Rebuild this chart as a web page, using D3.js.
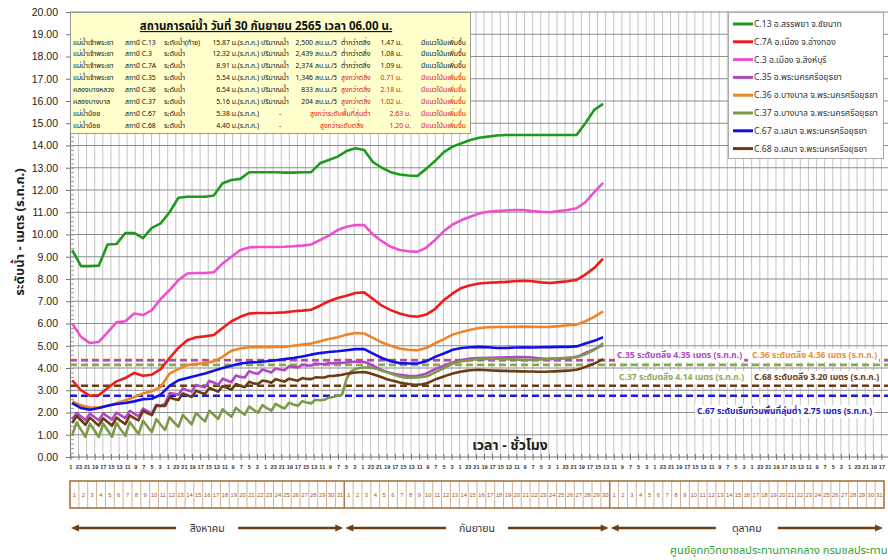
<!DOCTYPE html>
<html>
<head>
<meta charset="utf-8">
<script src="https://cdn.jsdelivr.net/npm/d3@7"></script>
<style>
  body { margin: 0; background: #fff; }
  svg { display: block; font-family: Tahoma, "Noto Sans Thai", "Noto Sans", "DejaVu Sans", sans-serif; }
</style>
</head>
<body>
<svg id="chart" width="888" height="560"></svg>
<script>
// ---- data -------------------------------------------------------------
// daily readings at 06:00, 1 Aug - 30 Sep 2022 (2565)
var c13 = [9.3, 8.58, 8.58, 8.6, 9.55, 9.57, 10.07, 10.07, 9.84, 10.3, 10.5, 11.0, 11.65, 11.7, 11.7, 11.7, 11.75, 12.3, 12.45, 12.5, 12.8, 12.8, 12.8, 12.8, 12.78, 12.78, 12.8, 12.8, 13.2, 13.35, 13.5, 13.75, 13.88, 13.8, 13.25, 13.0, 12.8, 12.7, 12.65, 12.63, 12.95, 13.3, 13.7, 13.95, 14.1, 14.25, 14.35, 14.4, 14.45, 14.47, 14.47, 14.47, 14.47, 14.47, 14.47, 14.47, 14.47, 14.47, 15.0, 15.6, 15.87];
var c3 = [6.0, 5.4, 5.12, 5.17, 5.6, 6.05, 6.1, 6.45, 6.38, 6.6, 7.1, 7.5, 7.95, 8.25, 8.27, 8.27, 8.3, 8.7, 9.0, 9.3, 9.42, 9.44, 9.44, 9.44, 9.45, 9.47, 9.5, 9.55, 9.75, 9.95, 10.2, 10.35, 10.43, 10.42, 10.0, 9.7, 9.45, 9.3, 9.25, 9.22, 9.4, 9.75, 10.15, 10.45, 10.65, 10.8, 10.95, 11.02, 11.05, 11.08, 11.1, 11.1, 11.05, 11.02, 11.0, 11.05, 11.1, 11.18, 11.45, 11.9, 12.32];
var c7a = [3.45, 3.0, 2.75, 2.78, 3.1, 3.4, 3.55, 3.78, 3.65, 3.7, 3.95, 4.45, 4.9, 5.25, 5.38, 5.42, 5.48, 5.8, 6.1, 6.3, 6.45, 6.47, 6.47, 6.48, 6.5, 6.55, 6.58, 6.62, 6.8, 7.0, 7.15, 7.25, 7.37, 7.4, 7.1, 6.8, 6.6, 6.45, 6.35, 6.3, 6.4, 6.65, 7.05, 7.35, 7.6, 7.72, 7.8, 7.83, 7.85, 7.87, 7.9, 7.92, 7.9, 7.85, 7.82, 7.86, 7.9, 7.96, 8.2, 8.5, 8.91];
var c36 = [2.5, 2.32, 2.22, 2.22, 2.3, 2.42, 2.55, 2.7, 2.85, 2.95, 3.15, 3.75, 3.95, 4.13, 4.18, 4.22, 4.3, 4.5, 4.78, 4.88, 4.93, 4.94, 4.94, 4.95, 4.95, 5.0, 5.05, 5.1, 5.2, 5.3, 5.38, 5.5, 5.57, 5.55, 5.35, 5.15, 5.0, 4.88, 4.82, 4.8, 4.9, 5.1, 5.3, 5.5, 5.62, 5.72, 5.8, 5.83, 5.84, 5.84, 5.85, 5.86, 5.85, 5.84, 5.85, 5.88, 5.92, 5.95, 6.1, 6.3, 6.54];
var c67 = [2.42, 2.2, 2.12, 2.2, 2.3, 2.38, 2.43, 2.5, 2.6, 2.62, 2.8, 3.2, 3.45, 3.55, 3.65, 3.75, 3.88, 4.0, 4.1, 4.2, 4.25, 4.27, 4.3, 4.35, 4.4, 4.45, 4.52, 4.6, 4.67, 4.72, 4.75, 4.8, 4.85, 4.85, 4.65, 4.45, 4.3, 4.22, 4.2, 4.2, 4.3, 4.5, 4.65, 4.82, 4.9, 4.93, 4.95, 4.93, 4.9, 4.9, 4.92, 4.93, 4.92, 4.93, 4.94, 4.95, 4.95, 4.97, 5.1, 5.22, 5.38];

// tidal stations, readings every 12 hours from 1 Aug 06:00
var c35 = [1.7, 1.98, 1.82, 1.66, 1.95, 1.8, 1.65, 1.96, 1.82, 1.68,
  2.0, 1.87, 1.75, 2.07, 1.95, 1.83, 2.17, 2.06, 1.95, 2.35,
  2.3, 2.4, 2.87, 2.84, 2.8, 3.08, 3.0, 2.94, 3.24, 3.18,
  3.13, 3.42, 3.35, 3.25, 3.52, 3.44, 3.36, 3.66, 3.6, 3.57,
  3.85, 3.78, 3.74, 3.93, 3.87, 3.8, 3.98, 3.93, 3.9, 4.08,
  4.05, 4.02, 4.15, 4.12, 4.11, 4.2, 4.18, 4.17, 4.22, 4.21,
  4.22, 4.23, 4.25, 4.27, 4.28, 4.28, 4.27, 4.2, 4.1, 4.0,
  3.9, 3.83, 3.77, 3.73, 3.7, 3.67, 3.65, 3.64, 3.65, 3.69,
  3.75, 3.85, 3.95, 4.03, 4.1, 4.18, 4.25, 4.31, 4.36, 4.39,
  4.42, 4.44, 4.45, 4.45, 4.46, 4.46, 4.47, 4.47, 4.48, 4.48,
  4.49, 4.49, 4.49, 4.48, 4.47, 4.45, 4.43, 4.41, 4.4, 4.41,
  4.42, 4.43, 4.45, 4.47, 4.5, 4.58, 4.68, 4.76, 4.85, 4.94,
  5.03];
var c37 = [0.98, 1.55, 1.22, 0.91, 1.5, 1.2, 0.9, 1.5, 1.2, 0.91,
  1.52, 1.23, 0.95, 1.57, 1.3, 1.03, 1.63, 1.37, 1.12, 1.7,
  1.45, 1.22, 1.78, 1.56, 1.35, 1.89, 1.68, 1.47, 1.98, 1.78,
  1.6, 2.08, 1.9, 1.71, 2.15, 1.97, 1.81, 2.21, 2.05, 1.9,
  2.27, 2.12, 1.99, 2.33, 2.2, 2.08, 2.39, 2.27, 2.18, 2.44,
  2.36, 2.3, 2.51, 2.45, 2.41, 2.57, 2.55, 2.57, 2.67, 2.7,
  2.75, 2.8, 3.5, 3.85, 3.95, 4.0, 4.02, 4.02, 4.0, 3.95,
  3.88, 3.82, 3.75, 3.68, 3.62, 3.58, 3.56, 3.56, 3.58, 3.6,
  3.62, 3.7, 3.8, 3.9, 4.0, 4.1, 4.2, 4.25, 4.3, 4.33,
  4.36, 4.38, 4.4, 4.4, 4.41, 4.42, 4.41, 4.4, 4.4, 4.39,
  4.38, 4.37, 4.36, 4.36, 4.36, 4.37, 4.38, 4.4, 4.42, 4.43,
  4.44, 4.45, 4.46, 4.47, 4.5, 4.55, 4.62, 4.72, 4.82, 4.95,
  5.12];
var c68 = [1.53, 1.84, 1.65, 1.45, 1.77, 1.59, 1.41, 1.74, 1.57, 1.41,
  1.77, 1.62, 1.48, 1.87, 1.75, 1.65, 2.07, 1.97, 1.88, 2.3,
  2.3, 2.3, 2.67, 2.61, 2.56, 2.85, 2.78, 2.7, 2.98, 2.9,
  2.83, 3.1, 3.02, 2.94, 3.19, 3.11, 3.03, 3.28, 3.2, 3.14,
  3.38, 3.31, 3.28, 3.44, 3.4, 3.34, 3.5, 3.44, 3.39, 3.52,
  3.47, 3.43, 3.55, 3.51, 3.5, 3.58, 3.57, 3.57, 3.64, 3.64,
  3.67, 3.7, 3.74, 3.77, 3.8, 3.81, 3.82, 3.78, 3.72, 3.65,
  3.58, 3.51, 3.45, 3.4, 3.35, 3.31, 3.28, 3.26, 3.25, 3.27,
  3.3, 3.39, 3.48, 3.55, 3.62, 3.69, 3.75, 3.8, 3.84, 3.87,
  3.9, 3.91, 3.92, 3.91, 3.9, 3.89, 3.88, 3.87, 3.87, 3.86,
  3.86, 3.85, 3.85, 3.84, 3.84, 3.83, 3.83, 3.83, 3.84, 3.85,
  3.86, 3.87, 3.88, 3.9, 3.92, 3.98, 4.05, 4.12, 4.2, 4.3,
  4.4];

var seriesNames = ["C.13 อ.สรรพยา จ.ชัยนาท", "C.7A อ.เมือง จ.อ่างทอง", "C.3 อ.เมือง จ.สิงห์บุรี",
  "C.35 อ.พระนครศรีอยุธยา", "C.36 อ.บางบาล จ.พระนครศรีอยุธยา", "C.37 อ.บางบาล จ.พระนครศรีอยุธยา",
  "C.67 อ.เสนา จ.พระนครศรีอยุธยา", "C.68 อ.เสนา จ.พระนครศรีอยุธยา"];
var seriesValues = [c13, c7a, c3, c35, c36, c37, c67, c68];
var seriesStep = [24, 24, 24, 12, 24, 12, 24, 12];   // hours between readings
var seriesColors = ["#1e9b1e", "#ee1c1c", "#ef4fcf", "#b048c0", "#ef8428", "#7e9a48", "#1010e8", "#6a3c12"];

var thresholdValues = [4.36, 4.35, 4.14, 3.20, 2.75];
var thresholdColors = ["#ef8428", "#b048c0", "#8aa850", "#6a3c12", "#1a1ae0"];
var thresholdLabels = ["C.36 ระดับตลิ่ง 4.36 เมตร (ร.ท.ก.)", "C.35 ระดับตลิ่ง 4.35 เมตร (ร.ท.ก.)",
  "C.37 ระดับตลิ่ง 4.14 เมตร (ร.ท.ก.)", "C.68 ระดับตลิ่ง 3.20 เมตร (ร.ท.ก.)",
  "C.67 ระดับเริ่มท่วมพื้นที่ลุ่มต่ำ 2.75 เมตร (ร.ท.ก.)"];
var thresholdLabelColors = ["#e89040", "#b048c0", "#8aaa50", "#6a3c12", "#2020c0"];

var months = ["สิงหาคม", "กันยายน", "ตุลาคม"];
var monthDays = [31, 30, 31];

var infoTitle = "สถานการณ์น้ำ วันที่ 30 กันยายน 2565 เวลา 06.00 น.";
var infoRivers = ["แม่น้ำเจ้าพระยา", "แม่น้ำเจ้าพระยา", "แม่น้ำเจ้าพระยา", "แม่น้ำเจ้าพระยา", "คลองบางหลวง", "คลองบางบาล", "แม่น้ำน้อย", "แม่น้ำน้อย"];
var infoStations = ["สถานี C.13", "สถานี C.3", "สถานี C.7A", "สถานี C.35", "สถานี C.36", "สถานี C.37", "สถานี C.67", "สถานี C.68"];
var infoLevelLabels = ["ระดับน้ำ(ท้าย)", "ระดับน้ำ", "ระดับน้ำ", "ระดับน้ำ", "ระดับน้ำ", "ระดับน้ำ", "ระดับน้ำ", "ระดับน้ำ"];
var infoLevels = ["15.87", "12.32", "8.91", "5.54", "6.54", "5.16", "5.38", "4.40"];
var infoFlows = ["2,500", "2,439", "2,374", "1,346", "833", "204", "-", "-"];
var infoStatus = ["ต่ำกว่าตลิ่ง", "ต่ำกว่าตลิ่ง", "ต่ำกว่าตลิ่ง", "สูงกว่าตลิ่ง", "สูงกว่าตลิ่ง", "สูงกว่าตลิ่ง", "สูงกว่าระดับพื้นที่ลุ่มต่ำ", "สูงกว่าระดับตลิ่ง"];
var infoDiffs = ["1.47", "1.08", "1.09", "0.71", "2.18", "1.02", "2.63", "1.20"];
var infoTrend = "มีแนวโน้มเพิ่มขึ้น";

// ---- chart ------------------------------------------------------------
var svg = d3.select("#chart");
var totalHours = d3.sum(monthDays) * 24;

var x = d3.scaleLinear().domain([0, totalHours]).range([70, 884]);
var y = d3.scaleLinear().domain([0, 20]).range([457, 12]);

var hourTicks = d3.range(1, totalHours, 22);

// grid
var grid = svg.append("g");
grid.selectAll(".vg")
    .data(hourTicks)
  .enter().append("line")
    .attr("x1", function(d) { return x(d); })
    .attr("x2", function(d) { return x(d); })
    .attr("y1", y(20))
    .attr("y2", y(0))
    .style("stroke", "#c4c4c4")
    .style("stroke-width", 1);

grid.selectAll(".hg")
    .data(d3.range(1, 21))
  .enter().append("line")
    .attr("x1", 70)
    .attr("x2", 888)
    .attr("y1", function(d) { return y(d); })
    .attr("y2", function(d) { return y(d); })
    .style("stroke", "#8c8c8c")
    .style("stroke-width", 1);

// y axis
var yAxis = svg.append("g")
    .attr("transform", "translate(70,0)")
    .call(d3.axisLeft(y).tickValues(d3.range(0, 21)).tickFormat(d3.format(".2f")).tickSize(4).tickPadding(8));
yAxis.selectAll("text").style("font-family", "Arial, 'Liberation Sans', sans-serif").style("font-size", "10.5px").style("fill", "#222");
yAxis.select(".domain").style("stroke", "#777");
yAxis.selectAll(".tick line").style("stroke", "#777");

var yMinor = svg.append("g")
    .attr("transform", "translate(70,0)")
    .call(d3.axisRight(y).tickValues(d3.range(0, 100).map(function(i) { return i * 0.2; })).tickFormat("").tickSize(4));
yMinor.select(".domain").remove();
yMinor.selectAll(".tick line").style("stroke", "#999");

// x axis (hours)
var xAxis = svg.append("g")
    .attr("transform", "translate(0,457)")
    .call(d3.axisBottom(x).tickValues(hourTicks).tickFormat(function(h) { return h % 24; }).tickSize(3).tickPadding(5));
xAxis.select(".domain").attr("d", "M70,0H888").style("stroke", "#777");
xAxis.selectAll(".tick line").attr("y1", -3).style("stroke", "#777");
xAxis.selectAll("text")
    .style("font-family", "Arial, 'Liberation Sans', sans-serif")
    .style("font-size", "5.6px")
    .style("font-weight", "bold")
    .style("fill", "#333");

// thresholds
svg.append("g").selectAll("line")
    .data(thresholdValues)
  .enter().append("line")
    .attr("x1", 70)
    .attr("x2", 888)
    .attr("y1", function(d) { return y(d); })
    .attr("y2", function(d) { return y(d); })
    .style("stroke", function(d, i) { return thresholdColors[i]; })
    .style("stroke-width", 2.6)
    .style("stroke-dasharray", "7,4");

// series
var line = d3.line()
    .x(function(d) { return x(6 + d.i * d.step); })
    .y(function(d) { return y(d.v); });

svg.append("g").selectAll("path")
    .data(seriesValues)
  .enter().append("path")
    .attr("d", function(vals, s) {
      return line(vals.map(function(v, i) { return {v: v, i: i, step: seriesStep[s]}; }));
    })
    .style("fill", "none")
    .style("stroke", function(d, i) { return seriesColors[i]; })
    .style("stroke-width", 2.6)
    .style("stroke-linejoin", "round");

// threshold labels (white boxes like the Excel text boxes)
var labelPos = [[752, 358], [617, 358], [619, 380], [754, 380], [697, 414]];
var tl = svg.append("g").selectAll("g")
    .data(thresholdLabels)
  .enter().append("g");
tl.append("text")
    .attr("x", function(d, i) { return labelPos[i][0]; })
    .attr("y", function(d, i) { return labelPos[i][1]; })
    .style("font-size", "8.6px")
    .style("font-weight", "bold")
    .style("fill", function(d, i) { return thresholdLabelColors[i]; })
    .text(function(d) { return d; });
tl.each(function() {
  var b = d3.select(this).select("text").node().getBBox();
  d3.select(this).insert("rect", "text")
      .attr("x", b.x - 2).attr("y", b.y)
      .attr("width", b.width + 4).attr("height", b.height)
      .style("fill", "#fff");
});

// info box
var info = svg.append("g");
info.append("rect")
    .attr("x", 70.5).attr("y", 12.5)
    .attr("width", 400).attr("height", 121)
    .style("fill", "#ffffcc")
    .style("stroke", "#9a9a9a");
info.append("text")
    .attr("x", 266).attr("y", 30)
    .attr("text-anchor", "middle")
    .style("font-size", "11.5px")
    .style("font-weight", "bold")
    .style("text-decoration", "underline")
    .style("fill", "#111")
    .text(infoTitle);

// the sheet used a narrower font, so squeeze the row texts a little
var squeeze = 0.88;
function cell(g, xpos, anchor, color, str) {
  g.append("text")
      .attr("transform", "translate(" + xpos + ",0) scale(" + squeeze + ",1)")
      .attr("text-anchor", anchor)
      .style("fill", color)
      .text(str);
}
var statusX = [341, 341, 341, 341, 341, 341, 310, 320];
var diffX = [402, 402, 402, 402, 402, 402, 411, 411];
info.selectAll(".row")
    .data(infoRivers)
  .enter().append("g")
    .attr("transform", function(d, i) { return "translate(0," + (44.5 + i * 11.9) + ")"; })
    .style("font-size", "7.8px")
    .each(function(d, i) {
      var g = d3.select(this);
      var hot = i < 3 ? "#111" : "#e01010";
      cell(g, 73, "start", "#111", d);
      cell(g, 125, "start", "#111", infoStations[i]);
      cell(g, 164, "start", "#111", infoLevelLabels[i]);
      cell(g, 259, "end", "#111", infoLevels[i] + " ม.(ร.ท.ก.)");
      if (infoFlows[i] !== "-") {
        cell(g, 261, "start", "#111", "ปริมาณน้ำ");
        cell(g, 313, "end", "#111", infoFlows[i]);
        cell(g, 315, "start", "#111", "ลบ.ม./วิ");
      } else {
        cell(g, 280, "middle", "#111", "-");
      }
      cell(g, statusX[i], "start", hot, infoStatus[i]);
      cell(g, diffX[i], "end", hot, infoDiffs[i] + " ม.");
      cell(g, 466, "end", hot, infoTrend);
    });

// legend
var legend = svg.append("g");
legend.append("rect")
    .attr("x", 728.5).attr("y", 12.5)
    .attr("width", 155).attr("height", 146)
    .style("fill", "#fff")
    .style("stroke", "#aaa");
var li = legend.selectAll(".item")
    .data(seriesNames)
  .enter().append("g")
    .attr("transform", function(d, i) { return "translate(0," + (24 + i * 17.8) + ")"; });
li.append("line")
    .attr("x1", 733).attr("x2", 753)
    .style("stroke", function(d, i) { return seriesColors[i]; })
    .style("stroke-width", 3);
li.append("text")
    .attr("x", 754).attr("dy", "0.35em")
    .style("font-size", "8.6px")
    .style("fill", "#333")
    .text(function(d) { return d; });

// axis titles
svg.append("text")
    .attr("transform", "translate(24,232) rotate(-90)")
    .attr("text-anchor", "middle")
    .style("font-size", "13px")
    .style("font-weight", "bold")
    .style("fill", "#222")
    .text("ระดับน้ำ - เมตร (ร.ท.ก.)");
svg.append("text")
    .attr("x", 510).attr("y", 450)
    .attr("text-anchor", "middle")
    .style("font-size", "14px")
    .style("font-weight", "bold")
    .style("fill", "#222")
    .text("เวลา - ชั่วโมง");

// day boxes
var dayData = [];
months.forEach(function(m, mi) {
  var off = d3.sum(monthDays.slice(0, mi));
  d3.range(monthDays[mi]).forEach(function(k) { dayData.push({day: k + 1, idx: off + k}); });
});
var boxes = svg.append("g");
boxes.selectAll("line.day")
    .data(dayData.slice(1))
  .enter().append("line")
    .attr("x1", function(d) { return x(d.idx * 24); })
    .attr("x2", function(d) { return x(d.idx * 24); })
    .attr("y1", 481).attr("y2", 508)
    .style("stroke", "#b08050")
    .style("stroke-width", function(d) { return d.day === 1 ? 1.6 : 0.6; });
boxes.append("rect")
    .attr("x", x(0)).attr("y", 481)
    .attr("width", x(totalHours) - x(0)).attr("height", 27)
    .style("fill", "none")
    .style("stroke", "#a06a35")
    .style("stroke-width", 1.5);
boxes.selectAll("text")
    .data(dayData)
  .enter().append("text")
    .attr("x", function(d) { return x(d.idx * 24 + 12); })
    .attr("y", 497)
    .attr("text-anchor", "middle")
    .style("font-family", "Arial, 'Liberation Sans', sans-serif")
    .style("font-size", "5.8px")
    .style("fill", "#a0561c")
    .text(function(d) { return d.day; });

// month arrows
var arrows = svg.append("g");
months.forEach(function(m, mi) {
  var off = d3.sum(monthDays.slice(0, mi));
  var a = x(off * 24) + 1, b = x((off + monthDays[mi]) * 24) - 1, c = (a + b) / 2, yy = 528;
  var col = "#6d4018";
  arrows.append("line").attr("x1", a + 6).attr("x2", c - 31).attr("y1", yy).attr("y2", yy)
      .style("stroke", col).style("stroke-width", 2.4);
  arrows.append("line").attr("x1", c + 31).attr("x2", b - 6).attr("y1", yy).attr("y2", yy)
      .style("stroke", col).style("stroke-width", 2.4);
  arrows.append("path").attr("d", "M" + a + "," + yy + "l8,-3.5v7z").style("fill", col);
  arrows.append("path").attr("d", "M" + b + "," + yy + "l-8,-3.5v7z").style("fill", col);
  arrows.append("text").attr("x", c).attr("y", yy + 4)
      .attr("text-anchor", "middle")
      .style("font-size", "10.5px")
      .style("fill", "#333")
      .text(m);
});

svg.append("text")
    .attr("x", 670).attr("y", 554)
    .style("font-size", "11px")
    .style("fill", "#2e9e2e")
    .text("ศูนย์อุทกวิทยาชลประทานภาคกลาง  กรมชลประทาน");
</script>
</body>
</html>
